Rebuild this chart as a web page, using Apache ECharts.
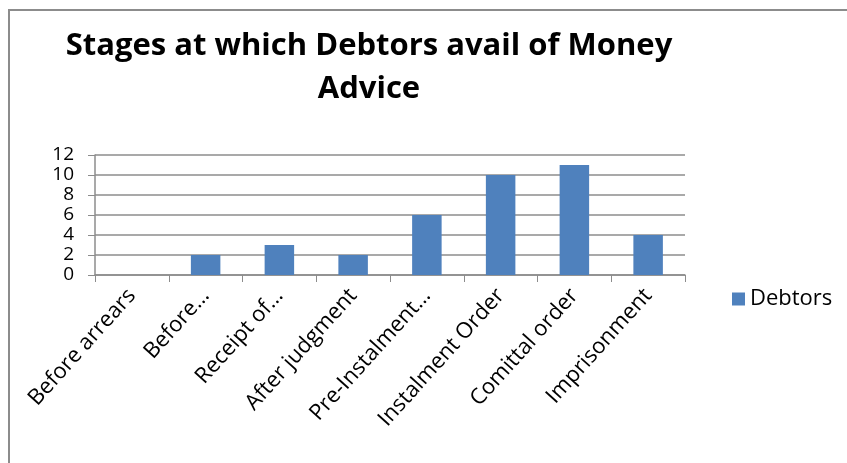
<!DOCTYPE html>
<html>
<head>
<meta charset="utf-8">
<script src="https://cdn.jsdelivr.net/npm/echarts@6/dist/echarts.min.js"></script>
<style>
  html, body { margin: 0; padding: 0; background: #fff; }
  #chart { width: 847px; height: 463px; }
</style>
</head>
<body>
<div id="chart"></div>
<script>
const titleText = 'Stages at which Debtors avail of Money\nAdvice';
const categories = ['Before arrears', 'Before…', 'Receipt of…', 'After judgment', 'Pre-Instalment…', 'Instalment Order', 'Comittal order', 'Imprisonment'];
const debtors = [0, 2, 3, 2, 6, 10, 11, 4];
const seriesName = 'Debtors';
const yTicks = { min: 0, max: 12, interval: 2 };

const font = '"Open Sans", "Liberation Sans", sans-serif';
const chart = echarts.init(document.getElementById('chart'), null, { renderer: 'canvas' });

chart.setOption({
  animation: false,
  backgroundColor: '#fff',
  title: {
    text: titleText,
    left: 364, top: 20, textAlign: 'center',
    textStyle: { fontFamily: font, fontWeight: 'bold', fontSize: 31, lineHeight: 43, color: '#000' }
  },
  graphic: [{
    type: 'rect', shape: { x: 9, y: 10, width: 900, height: 500 },
    style: { fill: null, stroke: '#8c8c8c', lineWidth: 2 }, silent: true
  }],
  legend: {
    data: [seriesName], left: 727, top: 283, itemWidth: 13, itemHeight: 13, itemGap: 6,
    icon: 'rect',
    textStyle: { fontFamily: font, fontSize: 22, color: '#000' }
  },
  grid: { left: 95, right: 162, top: 155, bottom: 188, containLabel: false },
  xAxis: {
    type: 'category', data: categories,
    axisLine: { lineStyle: { color: '#8c8c8c', width: 1.5 } },
    axisTick: { show: true, length: 7, lineStyle: { color: '#8c8c8c' } },
    axisLabel: { rotate: 48, interval: 0, margin: 17, fontFamily: font, fontSize: 22, color: '#000' }
  },
  yAxis: {
    type: 'value', min: yTicks.min, max: yTicks.max, interval: yTicks.interval,
    axisLine: { show: true, lineStyle: { color: '#8c8c8c', width: 1.5 } },
    axisTick: { show: true, length: 7, lineStyle: { color: '#8c8c8c' } },
    axisLabel: { margin: 21, fontFamily: font, fontSize: 19, color: '#000' },
    splitLine: { lineStyle: { color: '#8c8c8c', width: 1.5 } }
  },
  series: [{
    name: seriesName, type: 'bar', data: debtors, barCategoryGap: '60%',
    itemStyle: { color: '#4f81bd' }
  }]
});
</script>
</body>
</html>
